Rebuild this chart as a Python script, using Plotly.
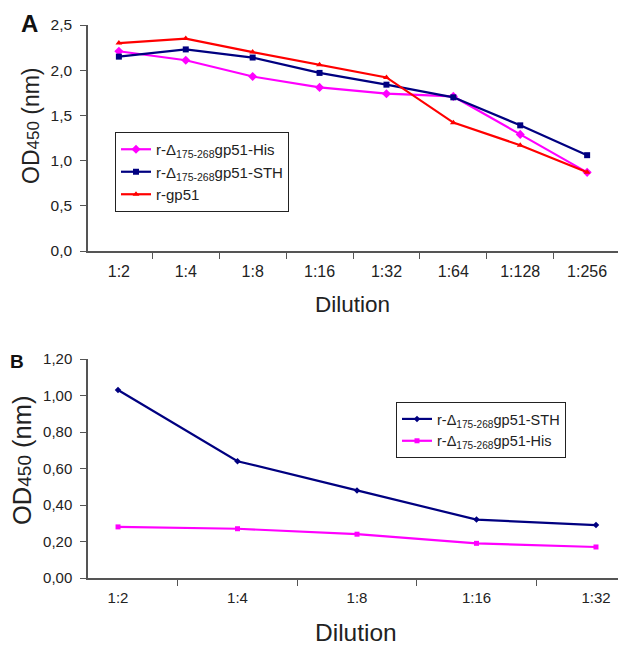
import plotly.graph_objects as go

# Panel A data
dil_a = ["1:2", "1:4", "1:8", "1:16", "1:32", "1:64", "1:128", "1:256"]
his_a = [2.21, 2.11, 1.93, 1.81, 1.74, 1.71, 1.29, 0.87]
sth_a = [2.15, 2.23, 2.14, 1.97, 1.84, 1.70, 1.39, 1.06]
gp51_a = [2.30, 2.35, 2.20, 2.06, 1.92, 1.42, 1.17, 0.87]

# Panel B data
dil_b = ["1:2", "1:4", "1:8", "1:16", "1:32"]
sth_b = [1.03, 0.64, 0.48, 0.32, 0.29]
his_b = [0.28, 0.27, 0.24, 0.19, 0.17]

MAG = "#FF00FF"
NAVY = "#000080"
RED = "#FF0000"
FONT = "Liberation Sans, Arial, sans-serif"

lab_his = "r-Δ<sub>175-268</sub>gp51-His"
lab_sth = "r-Δ<sub>175-268</sub>gp51-STH"

fig = go.Figure()

fig.add_trace(go.Scatter(x=dil_a, y=his_a, name=lab_his, mode="lines+markers",
                         line=dict(color=MAG, width=2.2),
                         marker=dict(symbol="diamond", size=7, color=MAG),
                         xaxis="x", yaxis="y", legend="legend"))
fig.add_trace(go.Scatter(x=dil_a, y=sth_a, name=lab_sth, mode="lines+markers",
                         line=dict(color=NAVY, width=2.2),
                         marker=dict(symbol="square", size=6, color=NAVY),
                         xaxis="x", yaxis="y", legend="legend"))
fig.add_trace(go.Scatter(x=dil_a, y=gp51_a, name="r-gp51", mode="lines+markers",
                         line=dict(color=RED, width=2.2),
                         marker=dict(symbol="triangle-up", size=6, color=RED),
                         xaxis="x", yaxis="y", legend="legend"))

fig.add_trace(go.Scatter(x=dil_b, y=sth_b, name=lab_sth, mode="lines+markers",
                         line=dict(color=NAVY, width=2.2),
                         marker=dict(symbol="diamond", size=5, color=NAVY),
                         xaxis="x2", yaxis="y2", legend="legend2"))
fig.add_trace(go.Scatter(x=dil_b, y=his_b, name=lab_his, mode="lines+markers",
                         line=dict(color=MAG, width=2.2),
                         marker=dict(symbol="square", size=5, color=MAG),
                         xaxis="x2", yaxis="y2", legend="legend2"))

# page body adds an 8px offset; figure coordinates = reference pixels - 8
W, H = 618, 639
OFF = 8


def px(x):
    return (x - OFF) / W


def py(y):
    return (H - (y - OFF)) / H


axis_common = dict(showline=True, linecolor="#555", linewidth=1.5, showgrid=False,
                   zeroline=False, ticks="outside", ticklen=6, tickcolor="#555",
                   automargin=False, ticklabelstandoff=5)


def ytitle(big, small):
    return f"OD<span style='font-size:{small}px'>450</span> (nm)"


def ann(text, x, y, size, angle=0, bold=False):
    return dict(text=f"<b>{text}</b>" if bold else text, x=px(x), y=py(y),
                xref="paper", yref="paper", xanchor="center", yanchor="middle",
                showarrow=False, textangle=angle,
                font=dict(family=FONT, size=size, color="#111" if bold else "#222"))


fig.update_layout(
    width=W, height=H,
    margin=dict(l=0, r=0, t=0, b=0, autoexpand=False),
    paper_bgcolor="white", plot_bgcolor="white",
    separators=", ",
    font=dict(family=FONT, color="#222"),
    xaxis=dict(axis_common, domain=[px(88), px(618)], anchor="y", type="category",
               tickson="boundaries",
               tickfont=dict(family=FONT, size=16, color="#222")),
    yaxis=dict(axis_common, domain=[py(251), py(25)], anchor="x",
               range=[0, 2.5], dtick=0.5, tickformat=".1f",
               tickfont=dict(family=FONT, size=15.5, color="#222")),
    xaxis2=dict(axis_common, domain=[px(88), 1.0], anchor="y2", type="category",
                tickson="boundaries",
                tickfont=dict(family=FONT, size=15, color="#222")),
    yaxis2=dict(axis_common, domain=[py(578), py(359)], anchor="x2",
                range=[0, 1.2], dtick=0.2, tickformat=".2f",
                tickfont=dict(family=FONT, size=15, color="#222")),
    legend=dict(x=px(115), y=py(132), xanchor="left", yanchor="top",
                bordercolor="#222", borderwidth=1, bgcolor="white",
                font=dict(family=FONT, size=15), tracegroupgap=0,
                itemwidth=30),
    legend2=dict(x=px(396), y=py(402), xanchor="left", yanchor="top",
                 bordercolor="#222", borderwidth=1, bgcolor="white",
                 font=dict(family=FONT, size=14.5), tracegroupgap=0,
                 itemwidth=30),
    annotations=[
        ann("A", 29, 23.5, 24, bold=True),
        ann("B", 17, 361, 19, bold=True),
        ann("Dilution", 352, 304, 22.5),
        ann("Dilution", 356, 632, 24.5),
        ann(ytitle(23, 17), 31, 126, 23, angle=-90),
        ann(ytitle(25.5, 19), 22, 461, 25.5, angle=-90),
    ],
)

fig.write_html("out.html")
